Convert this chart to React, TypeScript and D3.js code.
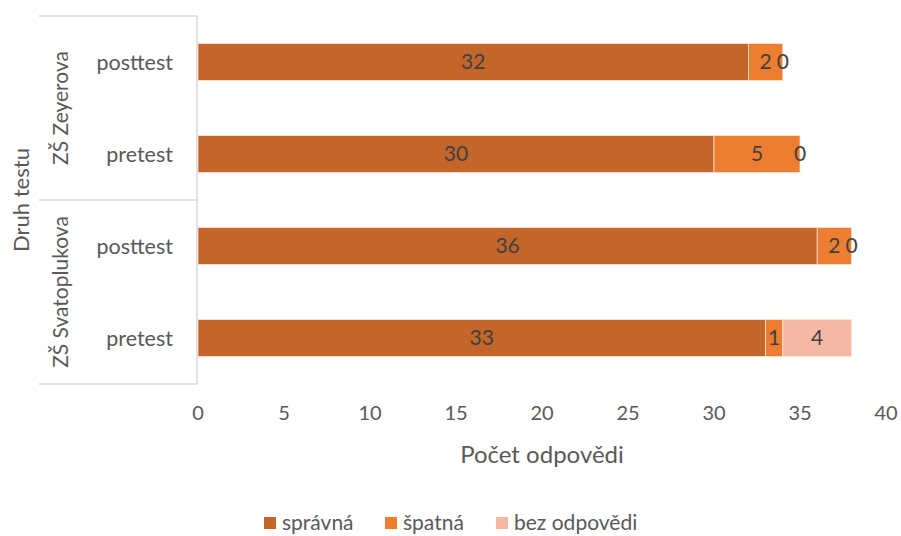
import React from "react";
import * as d3 from "d3";

const groups = ["ZŠ Zeyerova", "ZŠ Zeyerova", "ZŠ Svatoplukova", "ZŠ Svatoplukova"];
const tests = ["posttest", "pretest", "posttest", "pretest"];
const groupNames = ["ZŠ Zeyerova", "ZŠ Svatoplukova"];
const spravna = [32, 30, 36, 33];
const spatna = [2, 5, 2, 1];
const bezOdpovedi = [0, 0, 0, 4];
const seriesNames = ["správná", "špatná", "bez odpovědi"];
const colors = ["#C4652A", "#ED7D31", "#F4B9A4"];
const xTicks = [0, 5, 10, 15, 20, 25, 30, 35, 40];

const W = 901, H = 536;
const FONT = "Lato, 'Open Sans', sans-serif";

export default function App() {
  const x = d3.scaleLinear().domain([0, 40]).range([198, 886]);
  const keys = tests.map((_, i) => String(i));
  const y = d3.scaleBand().domain(keys).range([16, 384]).paddingInner(0.6).paddingOuter(0.3);
  const yFull = d3.scaleBand().domain(keys).range([16, 384]);
  const rows = tests.map((t, i) => ({ key: String(i), s0: spravna[i], s1: spatna[i], s2: bezOdpovedi[i] }));
  const stack = d3.stack<any>().keys(["s0", "s1", "s2"])(rows);
  const grid = "#D9D9D9";

  const groupExtents = groupNames.map((g) => {
    const idx = groups.map((gg, i) => (gg === g ? i : -1)).filter((i) => i >= 0);
    const y0 = yFull(String(idx[0]))!;
    const y1 = yFull(String(idx[idx.length - 1]))! + yFull.bandwidth();
    return { g, y0, y1 };
  });

  return (
    <svg width={W} height={H} style={{ position: "absolute", left: 0, top: 0, background: "#fff" }} fontFamily={FONT}>
      <line x1={197} x2={197} y1={16} y2={384} stroke={grid} strokeWidth={1.5} />
      {[16, 200, 384].map((yy, i) => (
        <line key={i} x1={39} x2={197} y1={yy} y2={yy} stroke={grid} strokeWidth={1.5} />
      ))}
      {stack.map((layer, si) => (
        <g key={si} fill={colors[si]}>
          {layer.map((d, i) => (
            <rect key={i} x={x(d[0])} y={y(keys[i])} width={x(d[1]) - x(d[0])} height={y.bandwidth()}
              stroke="#FBE5D6" strokeWidth={0.75} />
          ))}
        </g>
      ))}
      {stack.map((layer, si) => (
        <g key={"l" + si} fill="#404040" fontSize={21} textAnchor="middle">
          {layer.map((d, i) => (
            <text key={i} x={x((d[0] + d[1]) / 2)} y={y(keys[i])! + y.bandwidth() / 2} dy="0.35em">
              {d[1] - d[0]}
            </text>
          ))}
        </g>
      ))}
      {tests.map((t, i) => (
        <text key={i} x={173} y={yFull(keys[i])! + yFull.bandwidth() / 2} dy="0.35em" textAnchor="end" fontSize={21.5} fill="#595959">
          {t}
        </text>
      ))}
      {groupExtents.map((g) => (
        <text key={g.g} transform={`translate(61,${(g.y0 + g.y1) / 2}) rotate(-90)`} dy="0.35em" textAnchor="middle" fontSize={21} fill="#595959">
          {g.g}
        </text>
      ))}
      <text transform={`translate(21,200) rotate(-90)`} dy="0.35em" textAnchor="middle" fontSize={22} fill="#595959">
        Druh testu
      </text>
      {xTicks.map((t) => (
        <text key={t} x={x(t)} y={413} dy="0.35em" textAnchor="middle" fontSize={20} fill="#595959">
          {t}
        </text>
      ))}
      <text x={542} y={455} dy="0.35em" textAnchor="middle" fontSize={24} fill="#595959">
        Počet odpovědi
      </text>
      {seriesNames.map((s, i) => {
        const lx = [264, 385, 496][i];
        return (
          <g key={s}>
            <rect x={lx} y={517} width={12} height={12} fill={colors[i]} />
            <text x={lx + 18} y={523} dy="0.35em" fontSize={21} fill="#595959">{s}</text>
          </g>
        );
      })}
    </svg>
  );
}
